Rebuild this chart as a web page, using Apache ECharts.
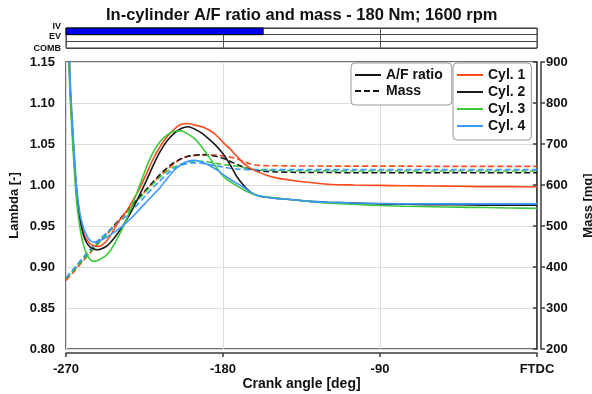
<!DOCTYPE html>
<html>
<head>
<meta charset="utf-8">
<script src="https://cdn.jsdelivr.net/npm/echarts@6/dist/echarts.min.js"></script>
<style>
html,body{margin:0;padding:0;background:#fff;}
#chart{width:592px;height:394px;}
</style>
</head>
<body>
<div id="chart"></div>
<script>
// Crank angle samples [deg]
const angle = [-270,-268,-266,-264,-262,-260,-258,-256,-254,-252,-250,-247,-244,-240,-236,-232,-228,-224,-220,-216,-212,-208,-204,-200,-196,-192,-188,-184,-180,-176,-172,-168,-164,-160,-155,-150,-140,-130,-120,-105,-90,-75,-60,-45,-30,-15,0];

// In-cylinder lambda [-] per cylinder
const lamCyl1 = [1.40,1.14,1.055,0.995,0.960,0.942,0.933,0.928,0.926,0.925,0.926,0.931,0.940,0.955,0.966,0.980,0.995,1.013,1.032,1.047,1.059,1.068,1.074,1.075,1.073,1.071,1.067,1.061,1.052,1.044,1.035,1.026,1.020,1.016,1.012,1.009,1.0055,1.003,1.001,1.000,0.9995,0.999,0.9988,0.9985,0.998,0.998,0.9978];
const lamCyl2 = [1.40,1.14,1.055,0.993,0.958,0.939,0.929,0.924,0.922,0.921,0.922,0.925,0.931,0.942,0.955,0.970,0.987,1.005,1.024,1.041,1.054,1.063,1.069,1.071,1.068,1.063,1.056,1.048,1.038,1.025,1.010,0.999,0.991,0.987,0.985,0.984,0.982,0.980,0.979,0.978,0.977,0.9765,0.976,0.976,0.9755,0.9755,0.9755];
const lamCyl3 = [1.40,1.13,1.045,0.982,0.948,0.927,0.915,0.909,0.907,0.908,0.910,0.914,0.922,0.937,0.955,0.976,0.998,1.021,1.040,1.053,1.061,1.0655,1.066,1.062,1.056,1.046,1.034,1.022,1.011,1.004,0.999,0.994,0.990,0.987,0.9855,0.984,0.982,0.980,0.978,0.9765,0.975,0.974,0.9735,0.973,0.9725,0.972,0.9715];
const lamCyl4 = [1.40,1.15,1.065,1.000,0.965,0.948,0.938,0.932,0.9305,0.931,0.933,0.936,0.940,0.946,0.953,0.961,0.970,0.979,0.988,0.997,1.008,1.018,1.025,1.029,1.030,1.028,1.024,1.019,1.013,1.007,1.002,0.997,0.991,0.987,0.985,0.9835,0.982,0.980,0.979,0.978,0.9775,0.977,0.977,0.977,0.977,0.977,0.977];

// In-cylinder mass [mg] per cylinder
const massCyl1 = [367,377,386,396,406,416,425,435,445,455,464,478,492,512,531,550,569,588,606,623,638,652,664,670,672,673,673,673,671,668,664,657,651,648,647,647,646.5,646.5,646,646,646,646,645.5,645.5,645.5,645.5,645.5];
const massCyl2 = [372,382,391,400,410,419,429,438,448,457,466,480,494,513,532,551,570,589,608,626,642,655,664,670,673,674,673,670,665,658,650,643,638,635,633,632,631,630.5,630.5,630,630,630,630,630,630,630,630];
const massCyl3 = [372,381,390,399,409,418,427,437,446,455,464,478,491,510,529,548,566,585,603,620,634,644,651,656,658,658,656,653,650,648,646,642,639,637,636,635.5,635,634.5,634.5,634,634,634,634,634,634,634,634];
const massCyl4 = [374,384,394,404,414,424,434,444,454,463,471,482,493,508,523,539,557,576,594,611,627,640,648,653,654,653,650,647,644,641,639,638,637.5,637.5,637.5,637.5,637.5,637.5,637.5,637.5,637.5,637.5,637.5,637.5,637.5,637.5,637.5];

// Valve event strip: rows and open intervals [start, end, row]
const valveRows = ['IV', 'EV', 'COMB'];
const valveEvents = [[-270, -157, 0]];

const cylNames = ['Cyl. 1', 'Cyl. 2', 'Cyl. 3', 'Cyl. 4'];
const styleNames = ['A/F ratio', 'Mass'];
const cylColors = ['#ff4a1c', '#1a1a1a', '#3cc83c', '#3a98ff'];

const FONT = '"Liberation Sans", Arial, Helvetica, sans-serif';
const AX = '#3a3a3a';
const pairs = (vals) => angle.map((a, i) => [a, vals[i]]);

const lamSets = [lamCyl1, lamCyl2, lamCyl3, lamCyl4];
const massSets = [massCyl1, massCyl2, massCyl3, massCyl4];
const DASH = [6, 3];
const hiddenMarker = { opacity: 0 };

const series = [];
// style key entries (black solid / dashed)
series.push({ name: styleNames[0], type: 'line', data: [], symbol: 'none', color: '#111', itemStyle: hiddenMarker, lineStyle: { color: '#111', width: 1.6 } });
series.push({ name: styleNames[1], type: 'line', data: [], symbol: 'none', color: '#111', itemStyle: hiddenMarker, lineStyle: { color: '#111', width: 1.6, type: DASH } });
// lambda traces (solid) on left axis
lamSets.forEach((vals, i) => {
  series.push({
    name: cylNames[i], type: 'line', xAxisIndex: 0, yAxisIndex: 0,
    data: pairs(vals), symbol: 'none', smooth: 0.3, clip: true, z: 3,
    color: cylColors[i], itemStyle: hiddenMarker, lineStyle: { color: cylColors[i], width: 1.6 }
  });
});
// mass traces (dashed) on right axis
massSets.forEach((vals, i) => {
  series.push({
    name: cylNames[i], type: 'line', xAxisIndex: 0, yAxisIndex: 1,
    data: pairs(vals), symbol: 'none', smooth: 0.3, clip: true, z: 2,
    color: cylColors[i], itemStyle: hiddenMarker, lineStyle: { color: cylColors[i], width: 1.6, type: DASH }
  });
});
// valve open bars
series.push({
  type: 'custom', xAxisIndex: 1, yAxisIndex: 2, data: valveEvents,
  encode: { x: [0, 1], y: 2 }, silent: true,
  renderItem: function (params, api) {
    const p0 = api.coord([api.value(0), api.value(2)]);
    const p1 = api.coord([api.value(1), api.value(2)]);
    const h = api.size([0, 1])[1];
    return {
      type: 'rect',
      shape: { x: p0[0], y: p0[1] - h / 2, width: p1[0] - p0[0], height: h },
      style: { fill: '#0000f0', stroke: '#000', lineWidth: 1 }
    };
  }
});

const labelPad = { IV: [0, 0, 10.6, 0], EV: [0, 0, 2.6, 0], COMB: [8.6, 0, 0, 0] };
const rowRich = {};
valveRows.forEach(r => {
  rowRich[r] = { fontSize: 9, fontWeight: 'bold', color: '#111', fontFamily: FONT, padding: labelPad[r] };
});

const legendBase = {
  orient: 'vertical', itemWidth: 26, itemHeight: 14, selectedMode: false,
  borderColor: '#999', borderWidth: 1, borderRadius: 4, backgroundColor: '#fff',
  itemStyle: { opacity: 0 },
  textStyle: { fontSize: 14, fontWeight: 'bold', color: '#111', fontFamily: FONT }
};

const option = {
  animation: false,
  backgroundColor: '#fff',
  title: {
    text: 'In-cylinder A/F ratio and mass - 180 Nm; 1600 rpm',
    left: 106, top: 7, padding: 0,
    textStyle: { fontSize: 16.5, fontWeight: 'bold', color: '#111', fontFamily: FONT }
  },
  legend: [
    Object.assign({}, legendBase, { left: 351, top: 63, itemGap: 2, padding: [5, 9, 7, 3], data: styleNames }),
    Object.assign({}, legendBase, { left: 453, top: 63, itemGap: 3, padding: [5, 6, 7, 3], data: cylNames })
  ],
  grid: [
    { left: 66, right: 55, top: 62, bottom: 45, show: true, outerBoundsMode: 'none', containLabel: false, borderColor: '#444', borderWidth: 1.5, backgroundColor: 'transparent' },
    { left: 66, right: 55, top: 28, height: 20, show: true, outerBoundsMode: 'none', containLabel: false, borderColor: '#333', borderWidth: 1 }
  ],
  xAxis: [
    {
      gridIndex: 0, type: 'value', min: -270, max: 0, interval: 90, offset: 4,
      axisLine: { show: true, onZero: false, lineStyle: { color: AX, width: 1.5 } },
      axisTick: { show: true, length: 4, lineStyle: { color: AX, width: 1.5 } },
      axisLabel: { formatter: v => (v === 0 ? 'FTDC' : String(v)), fontSize: 13, fontWeight: 'bold', color: '#111', margin: 10, fontFamily: FONT },
      splitLine: { show: true, lineStyle: { color: '#dddddd', width: 1 } },
      name: 'Crank angle [deg]', nameLocation: 'middle', nameGap: 24, nameMoveOverlap: false,
      nameTextStyle: { fontSize: 14, fontWeight: 'bold', color: '#111', fontFamily: FONT }
    },
    {
      gridIndex: 1, type: 'value', min: -270, max: 0, interval: 90,
      axisLine: { show: false }, axisTick: { show: false }, axisLabel: { show: false },
      splitLine: { show: true, lineStyle: { color: '#555', width: 1 } }
    }
  ],
  yAxis: [
    {
      gridIndex: 0, type: 'value', position: 'left', min: 0.8, max: 1.15, interval: 0.05, offset: 5,
      axisLine: { show: true, lineStyle: { color: AX, width: 1.5 } },
      axisTick: { show: true, length: 4, lineStyle: { color: AX, width: 1.5 } },
      axisLabel: { formatter: v => v.toFixed(2), fontSize: 13, fontWeight: 'bold', color: '#111', margin: 6, fontFamily: FONT },
      splitLine: { show: true, lineStyle: { color: '#dddddd', width: 1 } },
      name: 'Lambda [-]', nameLocation: 'middle', nameRotate: 90, nameGap: 40, nameMoveOverlap: false,
      nameTextStyle: { fontSize: 13, fontWeight: 'bold', color: '#111', fontFamily: FONT }
    },
    {
      gridIndex: 0, type: 'value', position: 'right', min: 200, max: 900, interval: 100, offset: 4,
      axisLine: { show: true, lineStyle: { color: AX, width: 1.5 } },
      axisTick: { show: true, length: 4, lineStyle: { color: AX, width: 1.5 } },
      axisLabel: { fontSize: 13, fontWeight: 'bold', color: '#111', margin: 5, fontFamily: FONT },
      splitLine: { show: false },
      name: 'Mass [mg]', nameLocation: 'middle', nameRotate: 90, nameGap: 41, nameMoveOverlap: false,
      nameTextStyle: { fontSize: 13, fontWeight: 'bold', color: '#111', fontFamily: FONT }
    },
    {
      gridIndex: 1, type: 'category', data: valveRows, inverse: true,
      axisLine: { show: false }, axisTick: { show: false },
      splitLine: { show: true, interval: 0, lineStyle: { color: '#444', width: 1 } },
      axisLabel: { margin: 5, interval: 0, formatter: v => '{' + v + '|' + v + '}', rich: rowRich }
    }
  ],
  series: series
};

const chart = echarts.init(document.getElementById('chart'), null, { renderer: 'canvas' });
chart.setOption(option);
</script>
</body>
</html>
